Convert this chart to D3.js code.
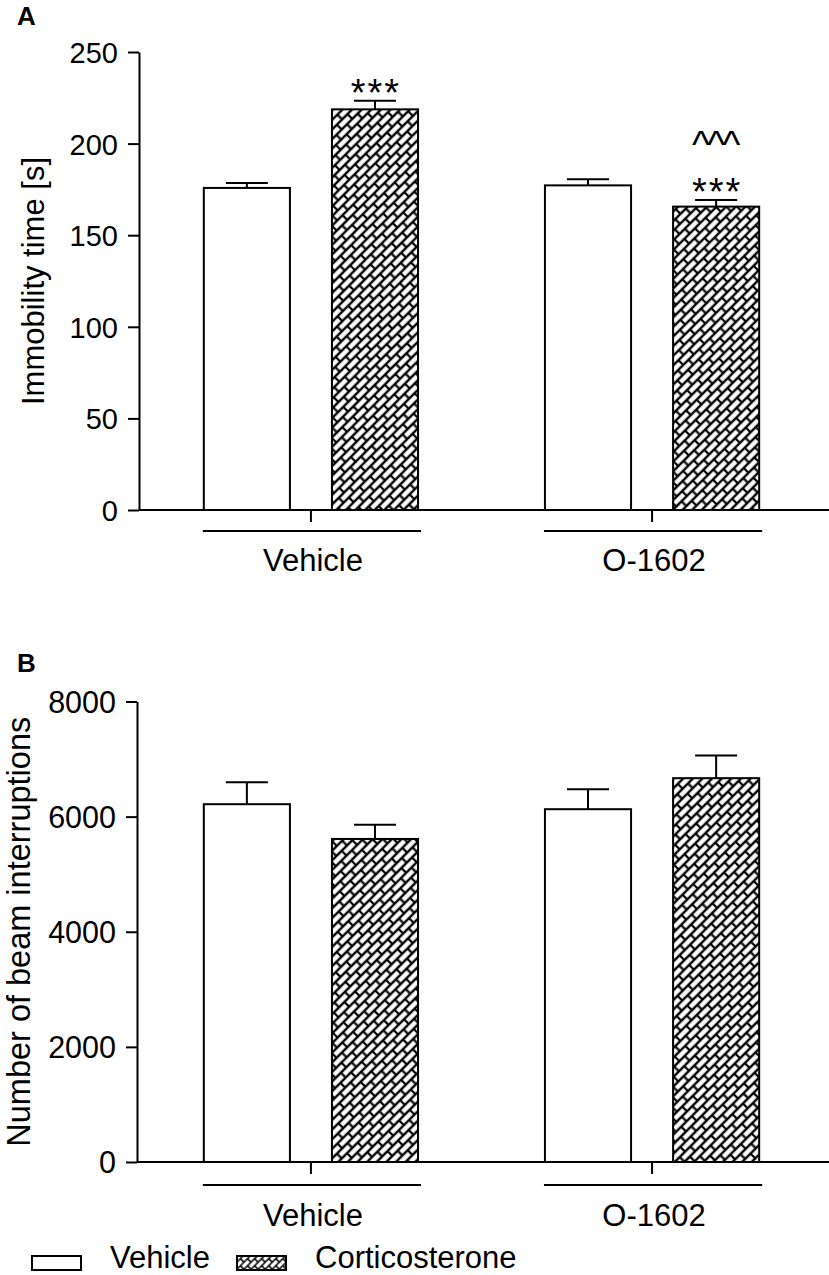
<!DOCTYPE html>
<html>
<head>
<meta charset="utf-8">
<script src="https://cdn.jsdelivr.net/npm/d3@7"></script>
<style>
  body { margin: 0; background: #fff; }
  svg { display: block; font-family: "Liberation Sans", Arial, Helvetica, sans-serif; }
</style>
</head>
<body>
<svg id="chart" width="829" height="1275"></svg>
<script>
// groups on the x axis and the two treatments in each group
const groups = ["Vehicle", "O-1602"];
const treatments = ["Vehicle", "Corticosterone"];

// panel A: immobility time [s], one value per group
const immobilityVehicle = [175.8, 177.2];
const immobilityVehicleSem = [2.7, 3.3];
const immobilityCort = [218.7, 165.6];
const immobilityCortSem = [4.7, 3.6];
const immobilityTicks = [0, 50, 100, 150, 200, 250];

// panel B: number of beam interruptions
const beamVehicle = [6216, 6129];
const beamVehicleSem = [382, 348];
const beamCort = [5612, 6668];
const beamCortSem = [249, 393];
const beamTicks = [0, 2000, 4000, 6000, 8000];

// significance marks above the bars
const immobilityMarks = [
    { group: "Vehicle", treatment: "Corticosterone", text: "***" },
    { group: "O-1602", treatment: "Corticosterone", text: "***" },
    { group: "O-1602", treatment: "Corticosterone", text: "^^^" }
];

const svg = d3.select("#chart");
const font = '"Liberation Sans", Arial, Helvetica, sans-serif';

const x0 = d3.scaleBand()
    .domain(groups)
    .range([139, 824])
    .paddingInner(0.372)
    .paddingOuter(0.19);

const x1 = d3.scaleBand()
    .domain(treatments)
    .range([0, x0.bandwidth()])
    .paddingInner(0.328);

const defs = svg.append("defs");

// brick hatch: rows of height s, bricks of length len, staggered by half a brick
function hatch(id, s, len, sw) {
    const p = defs.append("pattern")
        .attr("id", id)
        .attr("patternUnits", "userSpaceOnUse")
        .attr("width", len)
        .attr("height", 2 * s)
        .attr("patternTransform", "rotate(-45)");
    p.append("rect")
        .attr("width", len)
        .attr("height", 2 * s)
        .attr("fill", "#fff");
    p.append("path")
        .attr("d", `M0,0H${len}M0,${s}H${len}M0,${2 * s}H${len}` +
            `M0,0V${s}M${len},0V${s}M${len / 2},${s}V${2 * s}`)
        .attr("fill", "none")
        .attr("stroke", "#000")
        .attr("stroke-width", sw);
}
hatch("hatch", 6.8, 15, 2.2);
hatch("hatchSmall", 5, 10, 1.6);

const fillFor = t => t === "Corticosterone" ? "url(#hatch)" : "#fff";

function toRows(veh, vehSem, cort, cortSem) {
    let rows = [];
    groups.forEach((g, i) => {
        rows.push({ group: g, treatment: "Vehicle", mean: veh[i], sem: vehSem[i] });
        rows.push({ group: g, treatment: "Corticosterone", mean: cort[i], sem: cortSem[i] });
    });
    return rows;
}

const markStyle = {
    "***": { size: 38, dy: 5, spacing: 2 },
    "^^^": { size: 38, dy: -42, spacing: -2.5 }
};

function drawPanel(p) {
    const y = d3.scaleLinear()
        .domain([0, p.yMax])
        .range([p.bottom, p.top]);

    const g = svg.append("g");
    const cx = d => x0(d.group) + x1(d.treatment) + x1.bandwidth() / 2;

    // y axis
    const yAxis = g.append("g")
        .attr("transform", `translate(${p.axisX},0)`)
        .call(d3.axisLeft(y).tickValues(p.ticks).tickFormat(d3.format("d"))
            .tickSize(11).tickSizeOuter(0).tickPadding(10))
        .attr("font-family", font)
        .attr("font-size", p.tickFont);
    yAxis.selectAll("line, path").attr("stroke", "#000").attr("stroke-width", 2);
    yAxis.selectAll("text").attr("fill", "#000").attr("dy", "0.36em");

    // baseline and group ticks
    g.append("line")
        .attr("x1", p.axisX)
        .attr("x2", 829)
        .attr("y1", y(0))
        .attr("y2", y(0))
        .attr("stroke", "#000")
        .attr("stroke-width", 2);

    const xAxis = g.append("g")
        .attr("transform", `translate(0,${y(0)})`)
        .call(d3.axisBottom(x0).tickSize(12).tickSizeOuter(0).tickFormat(""));
    xAxis.select(".domain").remove();
    xAxis.selectAll("line").attr("stroke", "#000").attr("stroke-width", 2);

    g.selectAll(".groupLine")
        .data(groups)
        .enter()
        .append("line")
        .attr("x1", d => x0(d) - 1)
        .attr("x2", d => x0(d) + x0.bandwidth() + 3)
        .attr("y1", y(0) + p.lineGap)
        .attr("y2", y(0) + p.lineGap)
        .attr("stroke", "#000")
        .attr("stroke-width", 2);

    g.selectAll(".groupLabel")
        .data(groups)
        .enter()
        .append("text")
        .text(d => d)
        .attr("x", d => x0(d) + x0.bandwidth() / 2 + 2)
        .attr("y", y(0) + p.labelGap)
        .attr("text-anchor", "middle")
        .style("font-size", "31px");

    // bars
    g.selectAll(".bar")
        .data(p.rows)
        .enter()
        .append("rect")
        .attr("x", d => x0(d.group) + x1(d.treatment))
        .attr("y", d => y(d.mean))
        .attr("width", x1.bandwidth())
        .attr("height", d => y(0) - y(d.mean))
        .attr("fill", d => fillFor(d.treatment))
        .attr("stroke", "#000")
        .attr("stroke-width", 2);

    // error bars (upper only)
    g.selectAll(".errStem")
        .data(p.rows)
        .enter()
        .append("line")
        .attr("x1", cx)
        .attr("x2", cx)
        .attr("y1", d => y(d.mean))
        .attr("y2", d => y(d.mean + d.sem))
        .attr("stroke", "#000")
        .attr("stroke-width", 2);

    g.selectAll(".errCap")
        .data(p.rows)
        .enter()
        .append("line")
        .attr("x1", d => cx(d) - 21)
        .attr("x2", d => cx(d) + 21)
        .attr("y1", d => y(d.mean + d.sem))
        .attr("y2", d => y(d.mean + d.sem))
        .attr("stroke", "#000")
        .attr("stroke-width", 2);

    // significance marks
    g.selectAll(".mark")
        .data(p.marks)
        .enter()
        .append("text")
        .text(d => d.text)
        .attr("x", d => cx(d) + markStyle[d.text].spacing / 2)
        .attr("y", d => {
            const row = p.rows.find(r => r.group === d.group && r.treatment === d.treatment);
            return y(row.mean + row.sem) + markStyle[d.text].dy;
        })
        .attr("text-anchor", "middle")
        .style("letter-spacing", d => markStyle[d.text].spacing + "px")
        .style("font-size", d => markStyle[d.text].size + "px");

    // y axis title
    g.append("text")
        .text(p.title)
        .attr("transform", `translate(${p.titleX},${(p.top + p.bottom) / 2}) rotate(-90)`)
        .attr("text-anchor", "middle")
        .style("font-size", p.titleFont + "px");

    // panel letter
    g.append("text")
        .text(p.letter)
        .attr("x", 17)
        .attr("y", p.letterY)
        .style("font-size", "26px")
        .style("font-weight", "bold");
}

drawPanel({
    letter: "A", letterY: 25,
    top: 52, bottom: 510, axisX: 139, yMax: 250,
    ticks: immobilityTicks, tickFont: 29,
    title: "Immobility time [s]", titleX: 44, titleFont: 31,
    lineGap: 21, labelGap: 61,
    rows: toRows(immobilityVehicle, immobilityVehicleSem, immobilityCort, immobilityCortSem),
    marks: immobilityMarks
});

drawPanel({
    letter: "B", letterY: 672,
    top: 701.5, bottom: 1162, axisX: 137, yMax: 8000,
    ticks: beamTicks, tickFont: 30.5,
    title: "Number of beam interruptions", titleX: 30, titleFont: 32.5,
    lineGap: 23, labelGap: 64,
    rows: toRows(beamVehicle, beamVehicleSem, beamCort, beamCortSem),
    marks: []
});

// legend
const legend = svg.append("g");
const legendX = [32, 237];
treatments.forEach((t, i) => {
    legend.append("rect")
        .attr("x", legendX[i])
        .attr("y", 1256)
        .attr("width", 49)
        .attr("height", 14)
        .attr("fill", t === "Corticosterone" ? "url(#hatchSmall)" : "#fff")
        .attr("stroke", "#000")
        .attr("stroke-width", 2);
    legend.append("text")
        .text(t)
        .attr("x", legendX[i] + 78)
        .attr("y", 1268)
        .style("font-size", "31px");
});
</script>
</body>
</html>
